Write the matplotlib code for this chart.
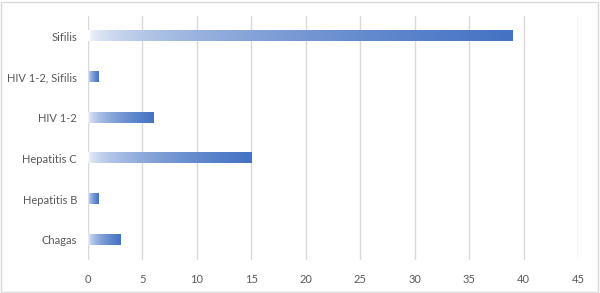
import numpy as np
import matplotlib
matplotlib.use("Agg")
import matplotlib.pyplot as plt
from matplotlib.patches import Rectangle
from matplotlib.colors import to_rgb

categories = ["Chagas", "Hepatitis B", "Hepatitis C", "HIV 1-2", "HIV 1-2, Sifilis", "Sifilis"]
values = [3, 1, 15, 6, 1, 39]
xticks = [0, 5, 10, 15, 20, 25, 30, 35, 40, 45]

plt.rcParams['font.family'] = ['Lato', 'DejaVu Sans']

fig = plt.figure(figsize=(6.0, 2.93), dpi=100)
ax = fig.add_axes([88/600, 1 - 260/293, 490/600, 244/293])

ax.set_xlim(0, 45)
ax.set_ylim(-0.5, len(categories) - 0.5)
ax.set_xticks(xticks)
ax.set_yticks(range(len(categories)))
ax.set_yticklabels(categories)
ax.tick_params(axis='both', length=0, labelsize=8, labelcolor='#595959')
ax.tick_params(axis='y', pad=8)
ax.tick_params(axis='x', pad=10)
for s in ax.spines.values():
    s.set_visible(False)
ax.grid(axis='x', color='#D9D9D9', linewidth=1.0)
ax.set_axisbelow(True)

base = np.array(to_rgb('#4472C4'))
h = 0.25
n = 256
for i, v in enumerate(values):
    t = np.linspace(0, 1, n)
    a = t ** 0.45
    rgb = 1 - a[:, None] * (1 - base[None, :])
    img = rgb[None, :, :]
    ax.imshow(img, extent=[0, v, i - h / 2, i + h / 2], aspect='auto',
              interpolation='bilinear', zorder=2)
ax.set_xlim(0, 45)
ax.set_ylim(-0.5, len(categories) - 0.5)

fig.patches.append(Rectangle((1/600, 1/293), 597/600, 290/293, transform=fig.transFigure,
                             fill=False, edgecolor='#D9D9D9', linewidth=1.0))

fig.savefig("out.png", dpi=100)
